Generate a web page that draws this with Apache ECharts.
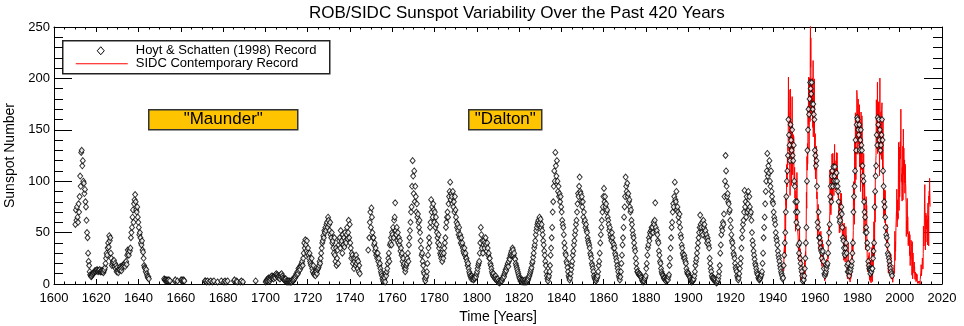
<!DOCTYPE html>
<html>
<head>
<meta charset="utf-8">
<script src="https://cdn.jsdelivr.net/npm/echarts@6/dist/echarts.min.js"></script>
<style>
  html, body { margin: 0; padding: 0; background: #fff; }
  #chart { width: 964px; height: 326px; }
</style>
</head>
<body>
<div id="chart"></div>
<script>
// Hoyt & Schatten (1998) group sunspot number, 4 readings per year
const hsStart1600 = 1610
const hs1600s = [
  58, 72, 62, 75,   // 1610
  65, 60, 78, 70,
  85, 105, 95, 128,
  130, 115, 120, 100,
  98, 88, 92, 80,
  75, 62, 50, 45,   // 1615
  30, 22, 18, 12,
  9, 8, 7, 8,
  9, 10, 11, 11,
  12, 13, 12, 13,
  13, 14, 13, 12,   // 1620
  13, 13, 14, 12,
  12, 13, 12, 13,
  12, 11, 13, 14,
  16, 20, 25, 30,
  28, 35, 40, 36,   // 1625
  47, 42, 45, 30,
  25, 18, 20, 22,
  21, 23, 17, 20,
  15, 18, 12, 16,
  13, 11, 14, 15,   // 1630
  14, 17, 15, 13,
  16, 18, 17, 19,
  18, 20, 17, 21,
  22, 19, 28, 33,
  30, 28, 33, 32,   // 1635
  35, 45, 50, 55,
  65, 72, 60, 78,
  82, 87, 80, 72,
  70, 75, 65, 60,
  55, 48, 50, 45,   // 1640
  40, 38, 42, 33,
  31, 25, 18, 16,
  15, 12, 14, 10,
  8, 6, 7, 5,
  null, null, null, null,   // 1645
  null, null, null, null,
  null, null, null, null,
  null, null, null, null,
  null, null, null, null,
  null, null, null, null,   // 1650
  null, null, null, null,
  5, 4, 4, 3,
  4, 3, 3, 4,
  3, 4, null, 3,
  null, null, null, null,   // 1655
  null, null, null, null,
  3, 4, null, null,
  null, 3, null, null,
  null, null, null, null,
  4, 3, 4, null,            // 1660
  3, 4, 3, null,
  null, null, null, null,
  null, null, null, null,
  null, null, null, null,
  null, null, null, null,   // 1665
  null, null, null, null,
  null, null, null, null,
  null, null, null, null,
  null, null, null, null,
  null, null, null, null,   // 1670
  null, 3, 3, null,
  2, null, 3, null,
  null, 2, null, null,
  3, null, null, 2,
  null, null, 3, null,      // 1675
  null, null, null, null,
  null, 2, null, null,
  null, null, null, null,
  3, null, null, null,
  null, 2, null, 3,         // 1680
  null, 2, null, null,
  3, null, null, null,
  null, null, null, null,
  null, null, null, null,
  3, 4, null, null,         // 1685
  null, 3, 2, null,
  null, null, null, null,
  2, null, 3, null,
  null, 2, null, null,
  null, null, null, null,   // 1690
  null, null, null, null,
  null, null, null, null,
  null, null, null, null,
  null, null, null, null,
  null, 3, null, null,      // 1695
  null, null, null, null,
  null, null, null, null,
  null, null, null, null,
  null, null, null, null
]

const hsStart1700 = 1700
const hs1700s = [
  2, 3, 4, 3,       // 1700
  5, 4, 6, 5,
  3, 5, 7, 6,
  8, 6, 7, 5,
  7, 8, 6, 9,
  10, 8, 9, 7,      // 1705
  6, 8, 7, 5,
  9, 7, 10, 6,
  8, 6, 5, 4,
  4, 3, 5, 3,
  2, 3, 2, 3,       // 1710
  2, 3, 2, 2,
  3, 2, 4, 3,
  3, 4, 5, 7,
  6, 8, 10, 9,
  12, 10, 15, 13,   // 1715
  16, 14, 18, 17,
  20, 22, 18, 25,
  30, 40, 35, 43,
  38, 32, 42, 30,
  35, 28, 25, 30,   // 1720
  22, 20, 18, 25,
  15, 12, 18, 10,
  9, 11, 8, 12,
  12, 10, 14, 15,
  16, 18, 22, 20,   // 1725
  25, 30, 35, 40,
  42, 47, 45, 52,
  50, 55, 52, 58,
  60, 55, 65, 62,
  58, 52, 60, 48,   // 1730
  45, 50, 40, 42,
  35, 30, 45, 28,
  22, 35, 18, 25,
  33, 20, 38, 42,
  45, 35, 52, 40,   // 1735
  42, 30, 48, 38,
  45, 36, 50, 42,
  40, 48, 55, 44,
  50, 62, 45, 58,
  40, 35, 25, 30,   // 1740
  28, 20, 25, 15,
  22, 25, 18, 28,
  20, 24, 15, 22,
  12, 18, 10, null,
  null, null, null, null,   // 1745
  null, null, null, null,
  null, null, null, null,
  null, null, 33, null,
  45, 60, 70, 55,
  74, 65, 50, 45,   // 1750
  45, 38, 40, 32,
  35, 28, 30, 25,
  30, 22, 25, 18,
  20, 15, 12, 10,
  8, 5, 3, 7,       // 1755
  4, 6, 2, 10,
  8, 12, 15, 20,
  25, 30, 22, 38,
  40, 45, 38, 50,
  48, 55, 45, 62,   // 1760
  65, 79, 52, 48,
  55, 42, 50, 40,
  45, 38, 42, 32,
  35, 28, 30, 22,
  25, 18, 20, 15,   // 1765
  12, 15, 18, 20,
  25, 30, 22, 38,
  45, 52, 60, 70,
  75, 95, 120, 105,
  88, 110, 80, 95,  // 1770
  85, 70, 78, 65,
  68, 60, 55, 62,
  50, 42, 35, 28,
  30, 22, 18, 12,
  10, 5, 3, 6,      // 1775
  8, 12, 20, 28,
  35, 45, 40, 55,
  60, 82, 70, 75,
  65, 78, 72, 60,
  70, 55, 65, 58,   // 1780
  50, 45, 40, 48,
  35, 38, 30, 28,
  25, 30, 22, 28,
  25, 30, 35, 40,
  45, 55, 60, 65,   // 1785
  70, 65, 78, 85,
  90, 99, 82, 88,
  85, 78, 90, 75,
  80, 70, 85, 72,
  65, 60, 55, 58,   // 1790
  52, 48, 55, 45,
  48, 40, 45, 38,
  40, 35, 32, 30,
  35, 28, 30, 25,
  25, 22, 18, 20,   // 1795
  15, 12, 10, 8,
  7, 5, 8, 6,
  5, 4, 6, 5,
  6, 8, 7, 10
]

const hsStart1800 = 1800
const hs1800s = [
  12, 15, 18, 20,   // 1800
  22, 30, 40, 55,
  48, 35, 42, 30,
  38, 42, 35, 40,
  45, 38, 32, 40,
  35, 28, 30, 25,   // 1805
  25, 20, 18, 15,
  12, 10, 8, 10,
  7, 6, 5, 8,
  5, 4, 3, 5,
  2, 3, 1, 2,       // 1810
  2, 3, 4, 3,
  5, 6, 8, 7,
  10, 12, 14, 13,
  16, 18, 20, 17,
  22, 25, 24, 28,   // 1815
  30, 32, 28, 35,
  33, 28, 30, 25,
  24, 20, 18, 16,
  14, 12, 10, 8,
  6, 5, 3, 4,       // 1820
  3, 2, 4, 3,
  2, 3, 2, 4,
  2, 3, 2, 3,
  4, 5, 7, 8,
  10, 12, 14, 16,   // 1825
  20, 22, 26, 30,
  35, 38, 42, 48,
  52, 55, 58, 60,
  62, 58, 65, 60,
  63, 55, 58, 52,   // 1830
  48, 42, 38, 32,
  28, 22, 18, 12,
  8, 5, 3, 6,
  8, 12, 18, 28,
  35, 45, 55, 70,   // 1835
  80, 95, 110, 100,
  128, 115, 105, 120,
  100, 90, 95, 85,
  88, 80, 85, 75,
  70, 62, 58, 55,   // 1840
  48, 40, 35, 30,
  28, 22, 20, 16,
  12, 8, 6, 4,
  6, 10, 14, 18,
  22, 28, 32, 38,   // 1845
  42, 48, 52, 58,
  62, 70, 78, 88,
  85, 95, 104, 90,
  88, 80, 85, 75,
  80, 65, 70, 60,   // 1850
  62, 55, 58, 52,
  50, 45, 42, 40,
  38, 35, 30, 28,
  25, 20, 18, 15,
  12, 8, 6, 5,      // 1855
  4, 3, 5, 6,
  8, 12, 18, 22,
  30, 40, 48, 55,
  62, 70, 75, 85,
  93, 80, 85, 75,   // 1860
  78, 70, 72, 65,
  62, 58, 52, 55,
  48, 45, 42, 50,
  45, 40, 35, 38,
  35, 30, 28, 25,   // 1865
  22, 18, 15, 12,
  8, 6, 4, 7,
  12, 20, 28, 38,
  45, 55, 65, 75,
  85, 104, 95, 90,  // 1870
  98, 85, 88, 80,
  82, 75, 70, 72,
  62, 58, 52, 48,
  45, 40, 35, 32,
  25, 20, 15, 12,   // 1875
  12, 10, 9, 10,
  8, 9, 7, 6,
  4, 3, 2, 3,
  3, 5, 6, 8,
  15, 20, 28, 35,   // 1880
  38, 45, 42, 50,
  48, 52, 55, 50,
  55, 50, 60, 58,
  62, 79, 55, 50,
  52, 48, 42, 40,   // 1885
  32, 28, 22, 20,
  15, 12, 10, 9,
  8, 6, 5, 6,
  4, 3, 5, 4,
  5, 4, 7, 9,       // 1890
  18, 25, 35, 45,
  55, 60, 70, 78,
  75, 85, 99, 82,
  80, 90, 72, 75,
  70, 65, 60, 68,   // 1895
  55, 48, 45, 38,
  35, 30, 28, 25,
  28, 25, 22, 20,
  15, 12, 10, 11
]

const hsStart1900 = 1900
const hs1900s = [
  10, 8, 7, 6,      // 1900
  4, 3, 2, 3,
  3, 4, 5, 8,
  12, 18, 22, 25,
  30, 35, 40, 45,
  50, 55, 67, 58,   // 1905
  55, 50, 60, 48,
  62, 55, 58, 50,
  52, 45, 48, 40,
  45, 42, 38, 35,
  25, 20, 15, 12,   // 1910
  8, 6, 5, 6,
  4, 5, 3, 4,
  2, 1, 2, 3,
  5, 8, 12, 18,
  30, 38, 48, 55,   // 1915
  52, 60, 58, 68,
  85, 100, 125, 110,
  95, 85, 88, 80,
  78, 70, 72, 62,
  55, 48, 42, 40,   // 1920
  35, 30, 28, 25,
  20, 16, 14, 12,
  8, 6, 4, 6,
  10, 15, 20, 25,
  35, 45, 52, 58,   // 1925
  62, 70, 91, 75,
  80, 65, 85, 70,
  78, 90, 72, 85,
  75, 68, 70, 62,
  50, 42, 38, 32,   // 1930
  28, 24, 20, 18,
  15, 12, 10, 9,
  6, 5, 4, 5,
  6, 8, 9, 12,
  20, 30, 45, 55,   // 1935
  65, 78, 90, 100,
  110, 127, 105, 115,
  108, 120, 100, 95,
  110, 90, 85, 80,
  78, 70, 65, 62,   // 1940
  58, 50, 45, 42,
  38, 32, 28, 25,
  22, 18, 15, 12,
  10, 8, 5, 6,
  18, 28, 40, 50,   // 1945
  70, 85, 100, 110,
  125, 160, 145, 135,
  120, 155, 140, 130,
  150, 125, 120, 135,
  100, 95, 80, 70,  // 1950
  60, 80, 70, 55,
  38, 30, 40, 25,
  20, 15, 12, 8,
  3, 5, 4, 8,
  15, 25, 40, 55,   // 1955
  100, 130, 150, 170,
  165, 180, 196, 190,
  185, 196, 175, 170,
  175, 165, 160, 130,
  125, 115, 120, 95,   // 1960
  60, 55, 70, 45,
  45, 40, 35, 32,
  25, 30, 32, 22,
  15, 10, 8, 10,
  12, 15, 18, 20,   // 1965
  30, 40, 50, 58,
  85, 95, 80, 105,
  110, 95, 114, 100,
  105, 114, 100, 95,
  108, 100, 95, 90, // 1970
  80, 65, 60, 62,
  70, 75, 68, 55,
  45, 42, 35, 30,
  28, 35, 40, 30,
  18, 12, 20, 12,   // 1975
  8, 15, 12, 15,
  18, 22, 30, 40,
  70, 85, 95, 110,
  140, 130, 155, 162,
  160, 150, 145, 155,  // 1980
  130, 140, 150, 135,
  130, 115, 105, 100,
  80, 70, 65, 50,
  55, 50, 40, 35,
  22, 18, 15, 14,   // 1985
  10, 14, 12, 15,
  15, 25, 32, 40,
  75, 90, 105, 115,
  145, 135, 162, 155,
  160, 140, 150, 130,  // 1990
  135, 145, 160, 140,
  110, 95, 80, 75,
  65, 55, 48, 45,
  38, 30, 28, 25,
  22, 18, 15, 12,   // 1995
  10, 8
]

// SIDC monthly sunspot number, 12 readings per year
const sidcStart = 1945
const sidcValues = [
  18.5, 12.7, 21.5, 32, 30.6, 36.2, 42.6, 25.9, 34.9, 68.8, 46, 27.4,             // 1945
  47.6, 86.2, 76.6, 75.7, 84.9, 73.5, 116.2, 107.2, 94.4, 102.3, 123.8, 121.7,
  115.7, 133.4, 129.8, 149.8, 201.3, 163.9, 157.9, 188.8, 169.4, 163.6, 128, 116.5,
  108.5, 86.1, 94.8, 189.7, 174, 167.8, 142.2, 157.9, 143.3, 136.3, 95.8, 138,
  119.1, 182.3, 157.5, 147, 106.2, 121.7, 125.8, 123.8, 145.3, 131.6, 143.5, 117.6,
  101.6, 94.8, 109.7, 113.4, 106.2, 83.6, 91, 85.2, 51.3, 61.4, 54.8, 54.1,       // 1950
  59.9, 59.9, 59.9, 92.9, 108.5, 100.6, 61.5, 61, 83.1, 51.6, 52.4, 45.8,
  40.7, 22.7, 22, 29.1, 23.4, 36.4, 39.3, 54.9, 28.2, 23.8, 22.1, 34.3,
  26.5, 3.9, 10, 27.8, 12.5, 21.8, 8.6, 23.5, 19.3, 8.2, 1.6, 2.5,
  0.2, 0.5, 10.9, 1.8, 0.8, 0.2, 4.8, 8.4, 1.5, 7, 9.2, 7.6,
  23.1, 20.8, 4.9, 11.3, 28.9, 31.7, 26.7, 40.7, 42.7, 58.5, 89.2, 76.9,          // 1955
  73.6, 124, 118.4, 110.7, 136.6, 116.6, 129.1, 169.6, 173.2, 155.3, 201.3, 192.1,
  165, 130.2, 157.4, 175.2, 164.6, 200.7, 187.2, 158, 235.8, 253.8, 210.9, 239.4,
  202.5, 164.9, 190.7, 196, 175.3, 171.5, 191.4, 200.2, 201.2, 181.5, 152.3, 187.6,
  217.4, 143.1, 185.7, 163.3, 172, 168.7, 149.6, 199.6, 145.2, 111.4, 124, 125,
  146.3, 106, 102.2, 122, 119.6, 110.2, 121.7, 134.1, 127.2, 82.8, 89.6, 85.6,    // 1960
  57.9, 46.1, 53, 61.4, 51, 77.4, 70.2, 55.9, 63.6, 37.7, 32.6, 40,
  38.7, 50.3, 45.6, 46.4, 43.7, 42, 21.8, 21.8, 51.3, 39.5, 26.9, 23.2,
  19.8, 24.4, 17.1, 29.3, 43, 35.9, 19.6, 33.2, 38.8, 35.3, 23.4, 14.9,
  15.3, 17.7, 16.5, 8.6, 9.5, 9.1, 3.1, 9.3, 4.7, 6.1, 7.4, 15.1,
  17.5, 14.2, 11.7, 6.8, 24.1, 15.9, 11.9, 8.9, 16.8, 20.1, 15.8, 17,             // 1965
  28.2, 24.4, 25.3, 48.7, 45.3, 47.7, 56.7, 51.2, 50.2, 57.2, 57.2, 70.4,
  110.9, 93.6, 111.8, 69.5, 86.5, 67.3, 91.5, 107.2, 76.8, 88.2, 94.3, 126.4,
  121.8, 111.9, 92.2, 81.2, 127.2, 110.3, 96.1, 109.3, 117.2, 107.7, 86, 109.8,
  104.4, 120.5, 135.8, 106.8, 120, 106, 96.8, 98, 91.3, 95.7, 93.5, 97.9,
  111.5, 127.8, 102.9, 109.5, 127.5, 106.8, 112.5, 93, 99.5, 86.6, 95.2, 83.5,    // 1970
  91.3, 79, 60.7, 71.8, 57.5, 49.8, 81, 61.4, 50.2, 51.7, 63.2, 82.2,
  61.5, 88.4, 80.1, 63.2, 80.5, 88, 76.5, 76.8, 64, 61.3, 41.6, 45.3,
  43.4, 42.9, 46, 57.7, 42.4, 39.5, 23.1, 25.6, 59.3, 30.7, 23.9, 23.3,
  27.6, 26, 21.3, 40.3, 39.5, 36, 55.8, 33.6, 40.2, 47.1, 25, 20.5,
  18.9, 11.5, 11.5, 5.1, 9, 11.4, 28.2, 39.7, 13.9, 9.1, 19.4, 7.8,               // 1975
  8.1, 4.3, 21.9, 18.8, 12.4, 12.2, 1.9, 16.4, 13.5, 20.6, 5.2, 15.3,
  16.4, 23.1, 8.7, 12.9, 18.6, 38.5, 21.4, 30.1, 44, 43.8, 29.1, 43.2,
  51.9, 93.6, 76.5, 99.7, 82.7, 95.1, 70.4, 58.1, 138.2, 125.1, 97.9, 122.7,
  166.6, 137.5, 138, 101.5, 134.4, 149.5, 159.4, 142.2, 188.4, 186.2, 183.3, 176.3,
  159.6, 155, 126.2, 164.1, 179.9, 157.3, 136.3, 135.4, 155, 164.7, 147.9, 174.4, // 1980
  114, 141.3, 135.5, 156.4, 127.5, 90, 143.8, 158.7, 167.3, 162.4, 137.5, 150.1,
  111.2, 163.6, 153.8, 122, 82.2, 110.4, 106.1, 107.6, 118.8, 94.7, 98.1, 127,
  84.3, 51, 66.5, 80.7, 99.2, 91.1, 82.2, 71.8, 50.3, 55.8, 33.3, 33.4,
  57, 85, 83.5, 69.7, 76.4, 46.1, 37.4, 25.5, 15.7, 12, 22.8, 18.7,
  16.5, 15.9, 17.2, 16.2, 27.5, 24.2, 30.7, 11.1, 3.9, 18.6, 16.2, 17.3,          // 1985
  2.5, 23.2, 15.1, 18.5, 13.7, 1.1, 18.1, 7.4, 3.8, 35.4, 15.2, 6.8,
  10.4, 2.4, 14.7, 39.6, 33, 17.4, 33, 38.7, 33.9, 60.6, 39.9, 27.1,
  59, 40, 76.2, 88, 60.1, 101.8, 113.8, 111.6, 120.1, 125.1, 125.1, 179.2,
  161.3, 165.1, 131.4, 130.6, 138.5, 196.2, 126.9, 168.9, 176.7, 159.4, 173, 165.5,
  177.3, 130.5, 140.3, 140.3, 132.2, 105.4, 149.4, 200.3, 125.2, 145.5, 131.4, 129.7, // 1990
  136.9, 167.5, 141.9, 140, 121.3, 169.7, 173.7, 176.3, 125.3, 144.1, 108.2, 144.4,
  150, 161.2, 106.4, 99.8, 73.6, 65.2, 85.7, 64.5, 63.9, 88.7, 91.8, 82.6,
  59.3, 91, 69.8, 62.2, 61.3, 49.8, 57.9, 42.4, 45.2, 37.6, 35.4, 41.2,
  57.7, 35.3, 29.8, 43.8, 23.8, 25.6, 21.4, 10.6, 26.8, 24.4, 31.9, 33.8,
  24.3, 20.3, 19.8, 15.2, 11.1, 13.8, 16.3, 8.4, 16.2, 29.3, 8.9, 10.6,           // 1995
  4.8, 8.4, 11.5, 6.3, 5, 10, 11.1, 12.6, 1.7, 6.5, 7.9, 10.7,
  5.7, 8.1, 8.7, 15.6, 18.5, 12.7, 10.4, 24.4, 51.3, 22.8, 39, 41.2,
  31.9, 40.3, 54.8, 53.4, 56.3, 70.7, 66.6, 92.2, 92.9, 55.5, 74, 81.9,
  62, 66.3, 68.8, 63.7, 106.4, 137.7, 113.5, 93.7, 71.5, 116.7, 133.2, 84.6,
  90.1, 112.9, 138.5, 125.5, 121.6, 124.9, 170.1, 130.5, 109.7, 99.4, 106.8, 104.4, // 2000
  95.6, 80.6, 113.5, 107.7, 96.6, 134, 81.8, 106.4, 150.7, 125.5, 106.5, 132.2,
  114.1, 107.4, 98.4, 120.7, 120.8, 88.3, 99.6, 116.4, 109.6, 97.5, 95, 81.6,
  79.5, 46.2, 61.5, 60, 55.2, 77.4, 83.3, 72.7, 48.7, 65.5, 67.3, 47,
  37.2, 46, 48.9, 39.3, 41.5, 43.2, 51.1, 40.9, 27.7, 48, 43.5, 17.9,
  31.3, 29.2, 24.5, 24.4, 42.6, 39.6, 39.9, 36.4, 22.1, 8.5, 18, 41.2,            // 2005
  15.3, 4.9, 10.6, 30.2, 22.3, 13.9, 12.2, 12.9, 14.4, 10.5, 21.4, 13.6,
  16.8, 10.7, 4.5, 3.4, 11.7, 12.1, 9.7, 6, 2.4, 0.9, 1.7, 10.1,
  3.3, 2.1, 9.3, 2.9, 3.2, 3.4, 0.5, 0.5, 1.1, 2.9, 4.1, 0.8,
  1.5, 1.4, 0.7, 1.2, 2.9, 2.9, 3.2, 0, 4.3, 4.8, 4.1, 10.8,
  13.2, 18.8, 15.4, 8, 8.7, 13.6, 16.1, 19.6, 25.2, 23.5, 21.6, 14.5,             // 2010
  19, 29.4, 56.2, 54.4, 41.6, 37, 43.9, 50.6, 78, 88, 96.7, 73,
  58.3, 33.1, 64.2, 55.2, 69, 64.5, 66.5, 63, 61.4, 53.3, 61.8, 40.8,
  62.9, 38, 57.9, 72.4, 78.7, 52.5, 57, 66, 37, 85.6, 77.6, 90.3,
  82, 102.8, 92.2, 84.7, 75.2                                                     // 2014
]

const hsName = 'Hoyt & Schatten (1998) Record'
const sidcName = 'SIDC Contemporary Record'
const FONT = '"Liberation Sans", Arial, Helvetica, sans-serif'

function toPoints(start, perYear, values) {
  const pts = []
  values.forEach((v, i) => {
    if (v != null) pts.push([start + (i + 0.5) / perYear, v])
  })
  return pts
}

const hsPoints = [].concat(
  toPoints(hsStart1600, 4, hs1600s),
  toPoints(hsStart1700, 4, hs1700s),
  toPoints(hsStart1800, 4, hs1800s),
  toPoints(hsStart1900, 4, hs1900s)
)
const sidcPoints = toPoints(sidcStart, 12, sidcValues)

const chart = echarts.init(document.getElementById('chart'))

const plainNumber = v => String(v)

function makeAxis(extra, isX) {
  return Object.assign({
    type: 'value',
    axisLine: { show: true, onZero: false, lineStyle: { color: '#000', width: 1 } },
    axisTick: {
      show: true,
      inside: true,
      length: isX ? 5 : 18,
      lineStyle: { color: '#000', width: 1 }
    },
    minorTick: {
      show: true,
      splitNumber: isX ? 4 : 5,
      length: isX ? 2.5 : 9,
      lineStyle: { color: '#000', width: 1 }
    },
    splitLine: { show: false },
    minorSplitLine: { show: false }
  }, extra)
}

// legend drawn as a framed box like the original
const legendBox = {
  type: 'group',
  left: 62,
  top: 40,
  z: 100,
  children: [
    {
      type: 'rect',
      shape: { x: 0, y: 0, width: 267, height: 33 },
      style: { fill: '#fff', stroke: '#222', lineWidth: 1.5 }
    },
    {
      type: 'polygon',
      shape: { points: [[38, 6], [41.5, 10], [38, 14], [34.5, 10]] },
      style: { fill: '#fff', stroke: '#000', lineWidth: 1 }
    },
    {
      type: 'line',
      shape: { x1: 13, y1: 23, x2: 65, y2: 23 },
      style: { stroke: '#ff0000', lineWidth: 1 }
    },
    {
      type: 'text',
      x: 73, y: 10,
      style: { text: hsName, font: '13px ' + FONT, fill: '#000', verticalAlign: 'middle', textVerticalAlign: 'middle' }
    },
    {
      type: 'text',
      x: 73, y: 23,
      style: { text: sidcName, font: '13px ' + FONT, fill: '#000', verticalAlign: 'middle', textVerticalAlign: 'middle' }
    }
  ]
}

const labelBox = (left, width, text) => ({
  type: 'group',
  left: left,
  top: 109,
  children: [
    {
      type: 'rect',
      shape: { x: 0, y: 0, width: width, height: 20 },
      style: { fill: '#ffc400', stroke: '#333', lineWidth: 1.5 }
    },
    {
      type: 'text',
      x: width / 2,
      y: 10,
      style: {
        text: text,
        font: '17px ' + FONT,
        fill: '#000',
        align: 'center',
        verticalAlign: 'middle',
        textAlign: 'center',
        textVerticalAlign: 'middle'
      }
    }
  ]
})

const option = {
  animation: false,
  backgroundColor: '#fff',
  title: {
    text: 'ROB/SIDC Sunspot Variability Over the Past 420 Years',
    left: 309,
    top: 5,
    padding: 0,
    textStyle: { fontFamily: FONT, fontSize: 17, fontWeight: 'normal', color: '#000' }
  },
  grid: { left: 54, right: 22, top: 27, bottom: 42, containLabel: false, outerBoundsMode: 'none' },
  xAxis: [
    makeAxis({
      position: 'bottom',
      min: 1600, max: 2020, interval: 20,
      name: 'Time [Years]',
      nameLocation: 'middle',
      nameGap: 21,
      nameTextStyle: { fontFamily: FONT, fontSize: 14, color: '#000' },
      axisLabel: { margin: 8, fontFamily: FONT, fontSize: 13, color: '#000', formatter: plainNumber }
    }, true),
    makeAxis({
      position: 'top',
      min: 1600, max: 2020, interval: 20,
      axisLabel: { show: false }
    }, true)
  ],
  yAxis: [
    makeAxis({
      position: 'left',
      min: 0, max: 250, interval: 50,
      name: 'Sunspot Number',
      nameLocation: 'middle',
      nameGap: 34,
      nameTextStyle: { fontFamily: FONT, fontSize: 14, color: '#000' },
      axisLabel: { margin: 4, fontFamily: FONT, fontSize: 13, color: '#000', formatter: plainNumber }
    }, false),
    makeAxis({
      position: 'right',
      min: 0, max: 250, interval: 50,
      axisLabel: { show: false }
    }, false)
  ],
  series: [
    {
      name: sidcName,
      type: 'line',
      xAxisIndex: 0,
      yAxisIndex: 0,
      data: sidcPoints,
      symbol: 'none',
      showSymbol: false,
      clip: true,
      lineStyle: { color: '#ff0000', width: 1 },
      itemStyle: { color: '#ff0000' },
      z: 2
    },
    {
      name: hsName,
      type: 'scatter',
      xAxisIndex: 0,
      yAxisIndex: 0,
      data: hsPoints,
      symbol: 'diamond',
      symbolSize: [5, 6],
      clip: true,
      itemStyle: { color: '#fff', borderColor: '#000', borderWidth: 1 },
      z: 3
    }
  ],
  graphic: [
    legendBox,
    labelBox(148, 149, '"Maunder"'),
    labelBox(468, 73, '"Dalton"')
  ]
}

chart.setOption(option)
</script>
</body>
</html>
